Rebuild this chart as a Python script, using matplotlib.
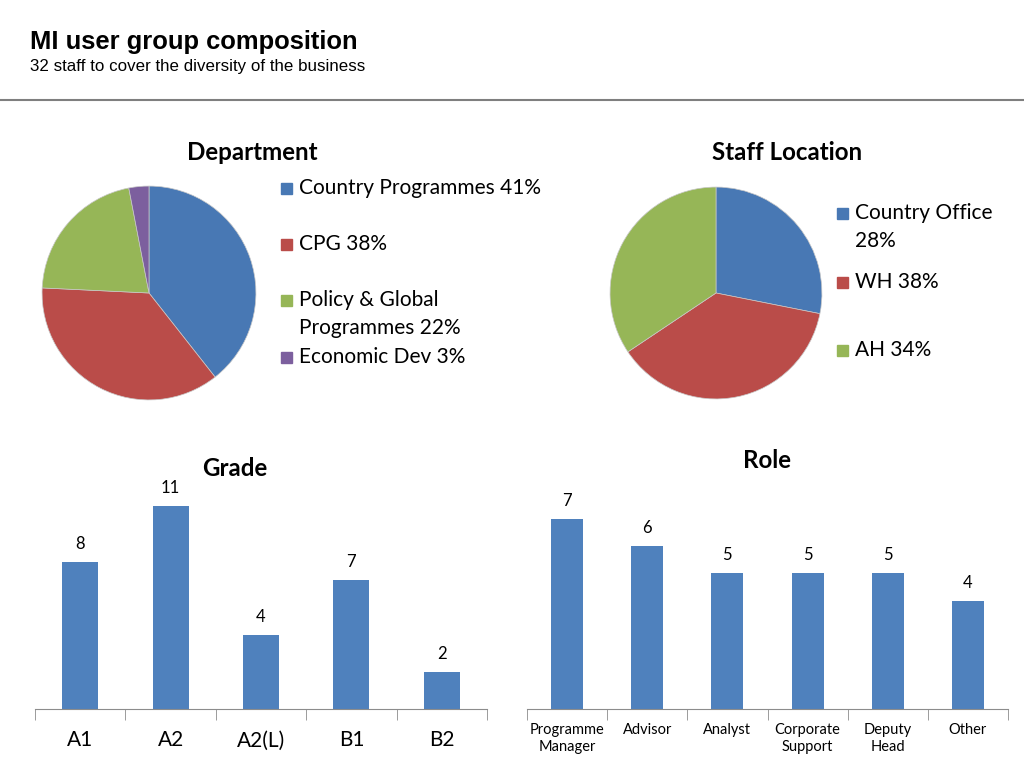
import matplotlib
matplotlib.use('Agg')
import matplotlib.pyplot as plt
from matplotlib.lines import Line2D
from matplotlib.patches import Rectangle

W, H = 1024, 768

title = 'MI user group composition'
subtitle = '32 staff to cover the diversity of the business'

dept_labels = ['Country Programmes 41%', 'CPG 38%', 'Policy & Global\nProgrammes 22%', 'Economic Dev 3%']
dept_counts = [13, 12, 7, 1]

loc_labels = ['Country Office\n28%', 'WH 38%', 'AH 34%']
loc_counts = [9, 12, 11]

grade_cats = ['A1', 'A2', 'A2(L)', 'B1', 'B2']
grade_vals = [8, 11, 4, 7, 2]

role_cats = ['Programme\nManager', 'Advisor', 'Analyst', 'Corporate\nSupport', 'Deputy\nHead', 'Other']
role_vals = [7, 6, 5, 5, 5, 4]

BLUE = '#4F81BD'
pie_colors = ['#4878B4', '#BA4C49', '#96B657', '#7C5F9E']
FONT = 'Lato'
GREY = '#8c8c8c'


def fx(x):
    return x / W


def fy(y):
    return 1 - y / H


def box(x0, y0, x1, y1):
    # pixel box (top-left origin) -> figure fraction rect
    return [fx(x0), fy(y1), (x1 - x0) / W, (y1 - y0) / H]


fig = plt.figure(figsize=(10.24, 7.68), dpi=100)

fig.text(fx(30), fy(42), title, fontsize=18.4, weight='bold', family='Liberation Sans', va='center')
fig.text(fx(30), fy(67), subtitle, fontsize=12.2, family='Liberation Sans', va='center')
fig.add_artist(Line2D([0, 1], [fy(100), fy(100)], color='#7f7f7f', lw=1.5, transform=fig.transFigure))


def pie_panel(rect, counts, colors, heading, hx, labels, leg_x, leg_y):
    ax = fig.add_axes(rect)
    ax.pie(counts, colors=colors, startangle=90, counterclock=False,
           wedgeprops=dict(linewidth=0.5, edgecolor='#c8c8c8'))
    ax.set_xlim(-1.01, 1.01)
    ax.set_ylim(-1.01, 1.01)
    fig.text(fx(hx), fy(153), heading, fontsize=17.4, weight='bold', family=FONT, ha='center', va='center')
    for lab, y, c in zip(labels, leg_y, colors):
        fig.add_artist(Rectangle((fx(leg_x), fy(y + 6)), 11 / W, 11 / H, color=c,
                                 transform=fig.transFigure))
        for i, line in enumerate(lab.split('\n')):
            fig.text(fx(leg_x + 18), fy(y + i * 28), line, fontsize=15, family=FONT, va='center')


pie_panel(box(41, 185, 257, 401), dept_counts, pie_colors, 'Department', 252,
          dept_labels, 281, [188, 244, 300, 357])
pie_panel(box(609, 186, 823, 400), loc_counts, pie_colors[:3], 'Staff Location', 787,
          loc_labels, 837, [213, 282, 350])


def bar_panel(rect, cats, vals, ymax, heading, hx, hy, tick_fs, pad, va):
    ax = fig.add_axes(rect)
    n = len(cats)
    ax.bar(range(n), vals, width=0.4, color=BLUE)
    ax.set_xlim(-0.5, n - 0.5)
    ax.set_ylim(0, ymax)
    for s in ['left', 'right', 'top']:
        ax.spines[s].set_visible(False)
    ax.spines['bottom'].set_color(GREY)
    ax.set_yticks([])
    ax.set_xticks(range(n))
    ax.set_xticklabels(cats, fontsize=tick_fs, family=FONT, linespacing=1.3, va=va)
    ax.set_xticks([i - 0.5 for i in range(n + 1)], minor=True)
    ax.tick_params(axis='x', which='major', length=0, pad=pad)
    ax.tick_params(axis='x', which='minor', length=8, color=GREY)
    for i, v in enumerate(vals):
        ax.annotate(str(v), (i, v), xytext=(0, 10), textcoords='offset pixels',
                    ha='center', va='bottom', fontsize=12, family=FONT)
    fig.text(fx(hx), fy(hy), heading, fontsize=17.4, weight='bold', family=FONT, ha='center', va='center')


bar_panel(box(35, 488, 487, 709), grade_cats, grade_vals, 12, 'Grade', 235, 468, 15, 27, 'baseline')
bar_panel(box(527, 492, 1008, 709), role_cats, role_vals, 8, 'Role', 767, 460, 10.5, 10, 'top')

fig.savefig('out.png', dpi=100)
